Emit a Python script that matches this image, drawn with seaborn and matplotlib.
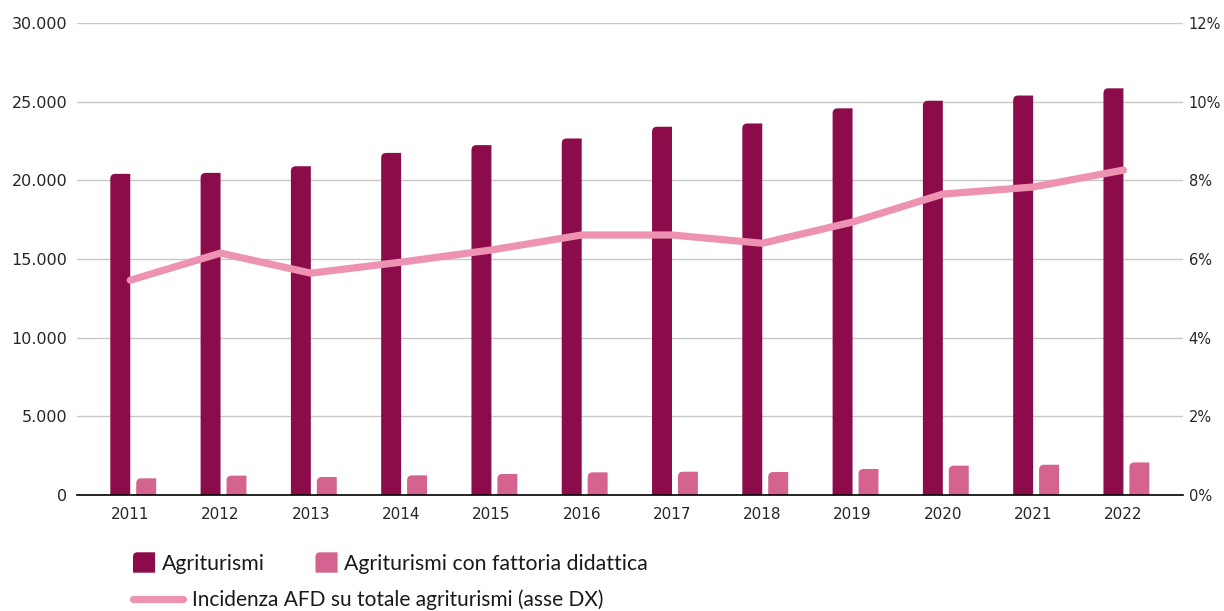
import numpy as np
import pandas as pd
import matplotlib
matplotlib.use("Agg")
import matplotlib.pyplot as plt
import seaborn as sns
from matplotlib.path import Path
from matplotlib.patches import PathPatch, Patch
from matplotlib.lines import Line2D
from matplotlib.legend_handler import HandlerPatch
from matplotlib.ticker import FuncFormatter, MultipleLocator

# --- data ---------------------------------------------------------------
anni = [str(a) for a in range(2011, 2023)]
agriturismi = [20413, 20474, 20897, 21744, 22238, 22661, 23406, 23615, 24576, 25060, 25390, 25849]
fattorie = [1060, 1230, 1145, 1250, 1340, 1440, 1480, 1460, 1655, 1865, 1925, 2070]
incidenza = [5.46, 6.15, 5.64, 5.92, 6.23, 6.61, 6.61, 6.40, 6.94, 7.65, 7.83, 8.26]

lab_agri = "Agriturismi"
lab_fatt = "Agriturismi con fattoria didattica"
lab_inc = "Incidenza AFD su totale agriturismi (asse DX)"

COL_AGRI = "#8c0b4b"
COL_FATT = "#d4648f"
COL_LINE = "#ee92b2"
COL_GRID = "#c8c8c8"

sns.set_style("white")
plt.rcParams["font.family"] = ["Lato", "DejaVu Sans"]
plt.rcParams["text.color"] = "#1a1a1a"
TICK_FONT = "DejaVu Sans"


def rounded_top_left(x0, y0, w, h, rx, ry):
    """Rectangle path whose top-left corner is rounded."""
    verts = [(x0, y0), (x0 + w, y0), (x0 + w, y0 + h), (x0 + rx, y0 + h),
             (x0, y0 + h), (x0, y0 + h - ry), (x0, y0)]
    codes = [Path.MOVETO, Path.LINETO, Path.LINETO, Path.LINETO,
             Path.CURVE3, Path.CURVE3, Path.CLOSEPOLY]
    return Path(verts, codes)


class RoundedHandle(HandlerPatch):
    def create_artists(self, legend, orig_handle, xdescent, ydescent,
                       width, height, fontsize, trans):
        r = 0.22 * height
        p = PathPatch(rounded_top_left(-xdescent, -ydescent, width, height, r, r),
                      facecolor=orig_handle.get_facecolor(), edgecolor="none",
                      transform=trans)
        return [p]


df = pd.DataFrame({
    "anno": anni * 2,
    "valore": agriturismi + fattorie,
    "serie": [lab_agri] * len(anni) + [lab_fatt] * len(anni),
})

W, H = 1224, 611
fig = plt.figure(figsize=(W / 100, H / 100), dpi=100)
ax = fig.add_axes([77 / W, 1 - 495 / H, (1183 - 77) / W, (495 - 23) / H])

sns.barplot(data=df, x="anno", y="valore", hue="serie",
            palette=[COL_AGRI, COL_FATT], saturation=1,
            width=0.574, gap=0.23, legend=False, ax=ax)

ax.set_xlim(-0.59, 11.66)
ax.set_ylim(0, 30000)
ax.set_xlabel("")
ax.set_ylabel("")

# bars: nudge the pair to the right and round the top-left corner
fig.canvas.draw()
px_x = ax.transData.transform((1, 0))[0] - ax.transData.transform((0, 0))[0]
px_y = ax.transData.transform((0, 1000))[1] - ax.transData.transform((0, 0))[1]
r_px = 5
rx, ry = r_px / px_x, r_px * 1000 / px_y
for rect in list(ax.patches):
    x0, y0 = rect.get_x() + 0.033, rect.get_y()
    w, h = rect.get_width(), rect.get_height()
    fc = rect.get_facecolor()
    z = rect.get_zorder()
    rect.remove()
    ax.add_patch(PathPatch(rounded_top_left(x0, y0, w, h, rx, min(ry, h)),
                           facecolor=fc, edgecolor="none", zorder=z))

ax.yaxis.set_major_locator(MultipleLocator(5000))
ax.yaxis.set_major_formatter(FuncFormatter(lambda v, p: f"{int(v):,}".replace(",", ".")))
ax.grid(axis="y", color=COL_GRID, lw=1)
ax.grid(axis="x", visible=False)
ax.set_axisbelow(True)
for s in ["top", "right", "left"]:
    ax.spines[s].set_visible(False)
ax.spines["bottom"].set_color("black")
ax.spines["bottom"].set_linewidth(1.2)
ax.tick_params(axis="y", length=0, pad=7, labelsize=11.5)
ax.tick_params(axis="x", length=0, pad=8.5, labelsize=11)

# secondary axis: share of agriturismi with a didactic farm
ax2 = ax.twinx()
sns.lineplot(x=np.arange(len(anni)), y=incidenza, ax=ax2, color=COL_LINE,
             lw=5.2, sort=False, solid_capstyle="round", solid_joinstyle="round")
ax2.set_ylim(0, 12)
ax2.yaxis.set_major_locator(MultipleLocator(2))
ax2.yaxis.set_major_formatter(FuncFormatter(lambda v, p: f"{int(round(v))}%"))
ax2.tick_params(axis="y", length=0, pad=4, labelsize=10.5)
for s in ax2.spines.values():
    s.set_visible(False)
ax2.set_ylabel("")
ax2.grid(False)

for lbl in ax.get_xticklabels() + ax.get_yticklabels() + ax2.get_yticklabels():
    lbl.set_fontfamily(TICK_FONT)

# legends
leg1 = fig.legend(handles=[Patch(facecolor=COL_AGRI), Patch(facecolor=COL_FATT)],
                  labels=[lab_agri, lab_fatt], loc="center left",
                  bbox_to_anchor=(133 / W, 1 - 563 / H), ncol=2, frameon=False,
                  fontsize=15.3, handlelength=1.04, handleheight=1.1,
                  handletextpad=0.3, columnspacing=2.4, borderpad=0,
                  borderaxespad=0, handler_map={Patch: RoundedHandle()})
leg2 = fig.legend(handles=[Line2D([], [], color=COL_LINE, lw=5.2, solid_capstyle="round")],
                  labels=[lab_inc], loc="center left",
                  bbox_to_anchor=(133 / W, 1 - 600 / H), frameon=False,
                  fontsize=15, handlelength=2.4, handletextpad=0.45,
                  borderpad=0, borderaxespad=0)

fig.savefig("out.png", dpi=100)
